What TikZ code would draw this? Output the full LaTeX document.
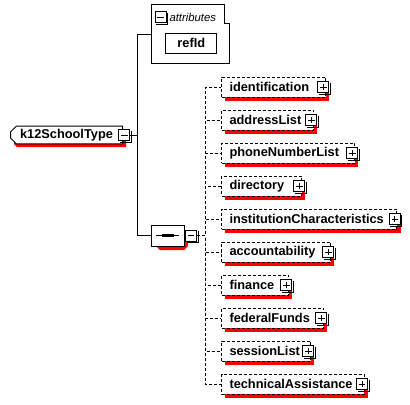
\documentclass[tikz,border=0pt]{standalone}
\usepackage{fontspec}
\setmainfont{Liberation Sans}
\usetikzlibrary{shapes.misc}
\definecolor{shadowgray}{RGB}{255,0,0}
\begin{document}
\begin{tikzpicture}[x=0.75pt,y=-0.75pt,line width=0.75pt,
  lbl/.style={font=\fontsize{9.6}{11}\selectfont\bfseries},
  elem/.style={draw,dash pattern=on 2.25pt off 1.5pt,fill=white,lbl,anchor=west,align=left,inner xsep=6pt,inner ysep=0pt,minimum height=15pt},
  icon/.style={draw,solid,fill=white,minimum size=8.25pt,inner sep=0pt},
  plusicon/.style={icon,path picture={\draw[black,line width=0.75pt] ([xshift=-2.4pt]path picture bounding box.center) -- ([xshift=2.4pt]path picture bounding box.center) ([yshift=-2.4pt]path picture bounding box.center) -- ([yshift=2.4pt]path picture bounding box.center);}},
  minusicon/.style={icon,path picture={\draw[black,line width=0.75pt] ([xshift=-2.4pt]path picture bounding box.center) -- ([xshift=2.4pt]path picture bounding box.center);}},
  k12box/.style={draw,fill=white,lbl,chamfered rectangle,chamfered rectangle corners={north west,south west},chamfered rectangle xsep=2.25pt,chamfered rectangle ysep=2.25pt,minimum width=84pt,minimum height=12pt,inner xsep=3pt,inner ysep=0pt,anchor=west},
  seqbox/.style={draw,fill=white,chamfered rectangle,chamfered rectangle xsep=3pt,chamfered rectangle ysep=3pt,minimum width=24.2pt,minimum height=15.75pt,inner sep=0pt,
    path picture={\draw[black] ([xshift=-9pt]path picture bounding box.center) -- ([xshift=8.25pt]path picture bounding box.center);
      \foreach \dx in {-4.3,-1.3,1.7} \fill[black] ([xshift=\dx pt,yshift=-1.3pt]path picture bounding box.center) rectangle ++(2.6pt,2.6pt);}},
  optconn/.style={draw,dash pattern=on 2.25pt off 1.5pt},
  iconshadow/.style={draw=black,line width=0.75pt},
]
\useasboundingbox (0,0) rectangle (410,404);

% drop shadows, drawn first (behind the boxes)
\fill[shadowgray] (17,131) -- (126,131) -- (126,147) -- (17,147) -- (14,144) -- (14,134) -- cycle;
\fill[shadowgray] (170,37.3) rectangle (220.6,57.3);
\fill[shadowgray] (159.8,229) -- (184,229) -- (188,233) -- (188,246) -- (184,250) -- (159.8,250) -- (155.8,246) -- (155.8,233) -- cycle;
\fill[shadowgray] (225,81) rectangle (329,101);
\fill[shadowgray] (225,114) rectangle (317,134);
\fill[shadowgray] (225,147) rectangle (358,167);
\fill[shadowgray] (225,180) rectangle (305,200);
\fill[shadowgray] (225,213) rectangle (400.5,233);
\fill[shadowgray] (225,246) rectangle (334,266);
\fill[shadowgray] (225,279) rectangle (292,299);
\fill[shadowgray] (225,312) rectangle (327,332);
\fill[shadowgray] (225,345) rectangle (314,365);
\fill[shadowgray] (225,378) rectangle (367.5,398);

% root element
\node[k12box] (k12) at (10,135) {k12SchoolType};

% attributes group
\node[minimum width=58.2pt,minimum height=43.7pt,inner sep=0pt,fill=white] (attr) at (190.5,34) {};
\draw (attr.south west) -- (attr.north west) -- ([xshift=-4pt]attr.north east) |- ([yshift=-14.25pt]attr.north east) -- (attr.south east) -- cycle;
\node[anchor=west,font=\fontsize{8.5}{10}\selectfont\itshape,inner sep=0pt] (attrl) at (169,17) {attributes};
\node[draw,fill=white,lbl,minimum width=38pt,minimum height=15pt,inner sep=0pt] (refid) at (191.3,43.3) {refId};

% sequence compositor
\node[seqbox] (seq) at (167.9,235.5) {};

% child elements
\node[elem,text width=66pt] (c1) at (221,87) {identification};
\node[elem,text width=57pt] (c2) at (221,120) {addressList};
\node[elem,text width=87.75pt] (c3) at (221,153) {phoneNumberList};
\node[elem,text width=48pt] (c4) at (221,186) {directory};
\node[elem,text width=119.6pt] (c5) at (221,219) {institutionCharacteristics};
\node[elem,text width=69.75pt] (c6) at (221,252) {accountability};
\node[elem,text width=38.25pt] (c7) at (221,285) {finance};
\node[elem,text width=64.5pt] (c8) at (221,318) {federalFunds};
\node[elem,text width=54.75pt] (c9) at (221,351) {sessionList};
\node[elem,text width=94.9pt] (c10) at (221,384) {technicalAssistance};

% expand / collapse icons
\node[minusicon] (k12m) at ([xshift=1pt]k12.east) {};
\node[minusicon] (attrm) at (160.5,17) {};
\node[minusicon] (seqm) at ([xshift=4.9pt]seq.east) {};
\foreach \c in {c1,c2,c3,c4,c5,c6,c7,c8,c9,c10}
  \node[plusicon] (\c p) at ([xshift=-1.9pt]\c.east) {};
\foreach \m in {k12m,attrm,seqm,c1p,c2p,c3p,c4p,c5p,c6p,c7p,c8p,c9p,c10p}
  \draw[iconshadow] ([shift={(1,1.5)}]\m.north east) |- ([shift={(1.5,1)}]\m.south west);

% connectors
\draw (k12m.east) -- ++(7,0) |- (attr.west);
\draw (k12m.east) -- ++(7,0) |- (seq.west);
\foreach \c in {c1,c2,c3,c4,c5,c6,c7,c8,c9,c10}
  \path[optconn] (seqm.east) -- ++(8,0) |- (\c.west);
\end{tikzpicture}
\end{document}
